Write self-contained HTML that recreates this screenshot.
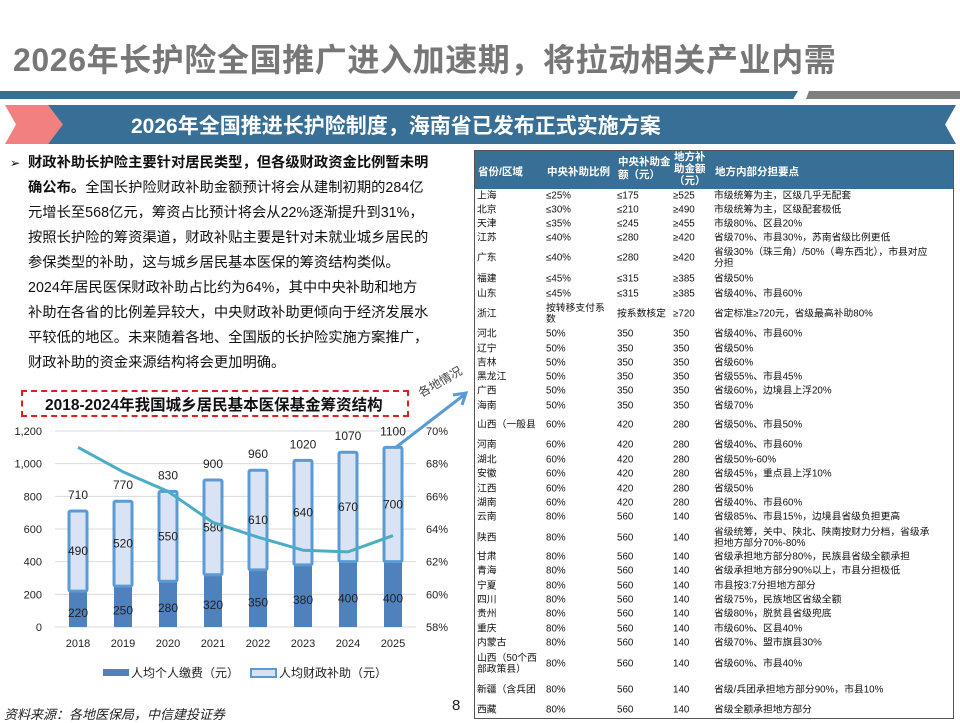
<!DOCTYPE html>
<html><head><meta charset="utf-8">
<style>
*{margin:0;padding:0;box-sizing:border-box}
body{width:960px;height:720px;overflow:hidden;background:#fff;position:relative;font-family:"Liberation Sans","Noto Sans CJK SC",sans-serif}
.abs{position:absolute}
#title{left:13px;top:35px;font-size:32px;font-weight:bold;color:#777;letter-spacing:0.6px;white-space:nowrap}
.para{left:28px;font-size:14.3px;color:#111;white-space:nowrap;line-height:20px}
#tbl{left:474px;top:150px;width:480px;height:569px;border:1px solid #555}
#thead{left:0;top:0;width:478px;height:38px;background:#376f96;color:#fff;font-weight:bold;font-size:10.5px}
.r{position:absolute;left:0;width:478px;font-family:"Liberation Sans","WenQuanYi Zen Hei",sans-serif;font-size:9.8px;color:#111;line-height:11px}
.r span{position:absolute;white-space:nowrap;transform:translateY(-50%)}
.c1{left:2px}.c2{left:71px}.c3{left:142px}.c4{left:198px}.c5{left:239px}
</style></head><body>
<div id="title" class="abs">2026年长护险全国推广进入加速期，将拉动相关产业内需</div>
<div class="abs" style="left:0;top:91px;width:798px;height:8px;background:#376f96;clip-path:polygon(0 0,100% 0,99.4% 100%,0 100%)"></div>
<div class="abs" style="left:806px;top:91px;width:154px;height:8px;background:#7f7f7f;clip-path:polygon(3px 0,100% 0,100% 100%,0 100%)"></div>
<div class="abs" style="left:48px;top:105px;width:908px;height:39px;background:#376f96;clip-path:polygon(0 0,100% 0,98.8% 50%,100% 100%,0 100%,14px 50%)"></div>
<div class="abs" style="left:5px;top:105px;width:58px;height:39px;background:#f28080;clip-path:polygon(0 0,43px 0,58px 50%,43px 100%,0 100%,11px 50%)"></div>
<div class="abs" style="left:131px;top:110px;font-size:21px;font-weight:bold;color:#fff;white-space:nowrap">2026年全国推进长护险制度，海南省已发布正式实施方案</div>

<div class="abs" style="left:10px;top:156px;font-size:12px">➢</div>
<div class="abs para" style="top:153px"><b>财政补助长护险主要针对居民类型，但各级财政资金比例暂未明</b></div>
<div class="abs para" style="top:178px"><b>确公布。</b>全国长护险财政补助金额预计将会从建制初期的284亿</div>
<div class="abs para" style="top:203px">元增长至568亿元，筹资占比预计将会从22%逐渐提升到31%，</div>
<div class="abs para" style="top:228px">按照长护险的筹资渠道，财政补贴主要是针对未就业城乡居民的</div>
<div class="abs para" style="top:253px">参保类型的补助，这与城乡居民基本医保的筹资结构类似。</div>
<div class="abs para" style="top:278px">2024年居民医保财政补助占比约为64%，其中中央补助和地方</div>
<div class="abs para" style="top:303px">补助在各省的比例差异较大，中央财政补助更倾向于经济发展水</div>
<div class="abs para" style="top:328px">平较低的地区。未来随着各地、全国版的长护险实施方案推广，</div>
<div class="abs para" style="top:353px">财政补助的资金来源结构将会更加明确。</div>

<div class="abs" style="left:21px;top:390px;width:388px;height:27px;border:2px dashed #e02020"></div>
<div class="abs" style="left:45px;top:393px;font-size:15.5px;font-weight:bold;color:#111;white-space:nowrap">2018-2024年我国城乡居民基本医保基金筹资结构</div>
<div class="abs" style="left:416px;top:373px;font-size:12px;color:#444;transform:rotate(-30deg);white-space:nowrap">各地情况</div>

<svg id="chart" class="abs" style="left:0;top:380px" width="474" height="300"></svg>

<div class="abs" style="left:4px;top:704px;font-size:13px;font-style:italic;color:#222;white-space:nowrap">资料来源：各地医保局，中信建投证券</div>
<div class="abs" style="left:452px;top:697px;font-size:15px;color:#222">8</div>

<div id="tbl" class="abs">
<div id="thead" class="abs">
<span class="abs" style="left:3px;top:13px">省份/区域</span>
<span class="abs" style="left:72px;top:13px">中央补助比例</span>
<span class="abs" style="left:143px;top:5px;line-height:13px">中央补助金<br>额（元）</span>
<span class="abs" style="left:199px;top:0px;line-height:12px;text-align:center">地方补<br>助金额<br>（元）</span>
<span class="abs" style="left:240px;top:13px">地方内部分担要点</span>
</div>
<div class="r" style="top:45px"><span class="c1">上海</span><span class="c2">≤25%</span><span class="c3">≤175</span><span class="c4">≥525</span><span class="c5">市级统筹为主，区级几乎无配套</span></div>
<div class="r" style="top:59px"><span class="c1">北京</span><span class="c2">≤30%</span><span class="c3">≤210</span><span class="c4">≥490</span><span class="c5">市级统筹为主，区级配套极低</span></div>
<div class="r" style="top:73px"><span class="c1">天津</span><span class="c2">≤35%</span><span class="c3">≤245</span><span class="c4">≥455</span><span class="c5">市级80%、区县20%</span></div>
<div class="r" style="top:87px"><span class="c1">江苏</span><span class="c2">≤40%</span><span class="c3">≤280</span><span class="c4">≥420</span><span class="c5">省级70%、市县30%，苏南省级比例更低</span></div>
<div class="r" style="top:107px"><span class="c1">广东</span><span class="c2">≤40%</span><span class="c3">≤280</span><span class="c4">≥420</span><span class="c5">省级30%（珠三角）/50%（粤东西北），市县对应<br>分担</span></div>
<div class="r" style="top:128px"><span class="c1">福建</span><span class="c2">≤45%</span><span class="c3">≤315</span><span class="c4">≥385</span><span class="c5">省级50%</span></div>
<div class="r" style="top:143px"><span class="c1">山东</span><span class="c2">≤45%</span><span class="c3">≤315</span><span class="c4">≥385</span><span class="c5">省级40%、市县60%</span></div>
<div class="r" style="top:163px"><span class="c1">浙江</span><span class="c2">按转移支付系<br>数</span><span class="c3">按系数核定</span><span class="c4">≥720</span><span class="c5">省定标准≥720元，省级最高补助80%</span></div>
<div class="r" style="top:183px"><span class="c1">河北</span><span class="c2">50%</span><span class="c3">350</span><span class="c4">350</span><span class="c5">省级40%、市县60%</span></div>
<div class="r" style="top:198px"><span class="c1">辽宁</span><span class="c2">50%</span><span class="c3">350</span><span class="c4">350</span><span class="c5">省级50%</span></div>
<div class="r" style="top:212px"><span class="c1">吉林</span><span class="c2">50%</span><span class="c3">350</span><span class="c4">350</span><span class="c5">省级60%</span></div>
<div class="r" style="top:226px"><span class="c1">黑龙江</span><span class="c2">50%</span><span class="c3">350</span><span class="c4">350</span><span class="c5">省级55%、市县45%</span></div>
<div class="r" style="top:240px"><span class="c1">广西</span><span class="c2">50%</span><span class="c3">350</span><span class="c4">350</span><span class="c5">省级60%，边境县上浮20%</span></div>
<div class="r" style="top:255px"><span class="c1">海南</span><span class="c2">50%</span><span class="c3">350</span><span class="c4">350</span><span class="c5">省级70%</span></div>
<div class="r" style="top:274px"><span class="c1">山西（一般县</span><span class="c2" style="background:#fff">60%</span><span class="c3">420</span><span class="c4">280</span><span class="c5">省级50%、市县50%</span></div>
<div class="r" style="top:294px"><span class="c1">河南</span><span class="c2">60%</span><span class="c3">420</span><span class="c4">280</span><span class="c5">省级40%、市县60%</span></div>
<div class="r" style="top:309px"><span class="c1">湖北</span><span class="c2">60%</span><span class="c3">420</span><span class="c4">280</span><span class="c5">省级50%-60%</span></div>
<div class="r" style="top:323px"><span class="c1">安徽</span><span class="c2">60%</span><span class="c3">420</span><span class="c4">280</span><span class="c5">省级45%，重点县上浮10%</span></div>
<div class="r" style="top:338px"><span class="c1">江西</span><span class="c2">60%</span><span class="c3">420</span><span class="c4">280</span><span class="c5">省级50%</span></div>
<div class="r" style="top:352px"><span class="c1">湖南</span><span class="c2">60%</span><span class="c3">420</span><span class="c4">280</span><span class="c5">省级40%、市县60%</span></div>
<div class="r" style="top:366px"><span class="c1">云南</span><span class="c2">80%</span><span class="c3">560</span><span class="c4">140</span><span class="c5">省级85%、市县15%，边境县省级负担更高</span></div>
<div class="r" style="top:387px"><span class="c1">陕西</span><span class="c2">80%</span><span class="c3">560</span><span class="c4">140</span><span class="c5">省级统筹，关中、陕北、陕南按财力分档，省级承<br>担地方部分70%-80%</span></div>
<div class="r" style="top:406px"><span class="c1">甘肃</span><span class="c2">80%</span><span class="c3">560</span><span class="c4">140</span><span class="c5">省级承担地方部分80%，民族县省级全额承担</span></div>
<div class="r" style="top:420px"><span class="c1">青海</span><span class="c2">80%</span><span class="c3">560</span><span class="c4">140</span><span class="c5">省级承担地方部分90%以上，市县分担极低</span></div>
<div class="r" style="top:435px"><span class="c1">宁夏</span><span class="c2">80%</span><span class="c3">560</span><span class="c4">140</span><span class="c5">市县按3:7分担地方部分</span></div>
<div class="r" style="top:449px"><span class="c1">四川</span><span class="c2">80%</span><span class="c3">560</span><span class="c4">140</span><span class="c5">省级75%，民族地区省级全额</span></div>
<div class="r" style="top:463px"><span class="c1">贵州</span><span class="c2">80%</span><span class="c3">560</span><span class="c4">140</span><span class="c5">省级80%，脱贫县省级兜底</span></div>
<div class="r" style="top:478px"><span class="c1">重庆</span><span class="c2">80%</span><span class="c3">560</span><span class="c4">140</span><span class="c5">市级60%、区县40%</span></div>
<div class="r" style="top:492px"><span class="c1">内蒙古</span><span class="c2">80%</span><span class="c3">560</span><span class="c4">140</span><span class="c5">省级70%、盟市旗县30%</span></div>
<div class="r" style="top:513px"><span class="c1">山西（50个西<br>部政策县）</span><span class="c2">80%</span><span class="c3">560</span><span class="c4">140</span><span class="c5">省级60%、市县40%</span></div>
<div class="r" style="top:539px"><span class="c1">新疆（含兵团</span><span class="c2" style="background:#fff">80%</span><span class="c3">560</span><span class="c4">140</span><span class="c5">省级/兵团承担地方部分90%，市县10%</span></div>
<div class="r" style="top:559px"><span class="c1">西藏</span><span class="c2">80%</span><span class="c3">560</span><span class="c4">140</span><span class="c5">省级全额承担地方部分</span></div>
</div>

<script>
const years=["2018","2019","2020","2021","2022","2023","2024","2025"];
const personal=[220,250,280,320,350,380,400,400];
const subsidy=[490,520,550,580,610,640,670,700];
const totals=[710,770,830,900,960,1020,1070,1100];
const shareLine=[69.0,67.5,66.3,64.4,63.5,62.7,62.6,63.6];
const leftTicks=[0,200,400,600,800,1000,1200];
const rightTicks=[58,60,62,64,66,68,70];

const svg=document.getElementById('chart');
const NS='http://www.w3.org/2000/svg';
const y0=247,y1=51,x0=55,x1=416;
const yL=v=>y0-(v/1200)*(y0-y1);
const yR=v=>y0-((v-58)/12)*(y0-y1);
const xC=i=>78+i*45;
function mk(t,a){const e=document.createElementNS(NS,t);for(const k in a)e.setAttribute(k,a[k]);svg.appendChild(e);return e;}
function txt(s,x,y,a){const e=mk('text',Object.assign({x:x,y:y,'font-size':11,fill:'#222','font-family':'Liberation Sans, Noto Sans CJK SC, sans-serif'},a));e.textContent=s;return e;}

leftTicks.forEach(v=>{
  const g=mk('line',{x1:x0,x2:x1,y1:yL(v),y2:yL(v),stroke:'#d9d9d9','stroke-width':1});
  
  
  const t=txt(v.toLocaleString('en-US'),42,yL(v)+4,{'text-anchor':'end'});
  
  
});
rightTicks.forEach(v=>{
  const t=txt(v+'%',426,yR(v)+4,{});
  
  
});
years.forEach((yr,i)=>{
  const cx=xC(i),w=18;
  const b=mk('rect',{x:cx-w/2,y:yL(personal[i]),width:w,height:y0-yL(personal[i]),fill:'#4f81bd'});
  
  
  const top=personal[i]+subsidy[i];
  const s=mk('rect',{x:cx-w/2,y:yL(top),width:w,height:yL(personal[i])-yL(top),fill:'#dae3f3',stroke:'#5b9bd5','stroke-width':3,rx:1.5});
  
  
  const l1=txt(String(personal[i]),cx,yL(personal[i]/2)+8,{'text-anchor':'middle','font-size':12});
  
  
  const l2=txt(String(subsidy[i]),cx,yL(personal[i]+subsidy[i]/2)+4,{'text-anchor':'middle','font-size':12});
  
  
  const l3=txt(String(totals[i]),cx,yL(totals[i])-12,{'text-anchor':'middle','font-size':12});
  
  
  const xl=txt(yr,cx,267,{'text-anchor':'middle'});
  
  
});
let d='';
shareLine.forEach((v,i)=>{d+=(i?' L':'M')+xC(i)+','+yR(v);});
const ln=mk('path',{d:d,fill:'none',stroke:'#4bacc6','stroke-width':3,'stroke-linejoin':'round'});


const ar=mk('path',{d:'M395,68 L464,15 M453,15 L466,13 L462,25',fill:'none',stroke:'#5b9bd5','stroke-width':3});


const lg1=mk('rect',{x:103,y:289,width:26,height:7,fill:'#4f81bd'});


const lt1=txt('人均个人缴费（元）',131,297,{'font-size':12});


const lg2=mk('rect',{x:251,y:289,width:25,height:8,fill:'#dae3f3',stroke:'#5b9bd5','stroke-width':2});


const lt2=txt('人均财政补助（元）',279,297,{'font-size':12});


</script>
</body></html>
